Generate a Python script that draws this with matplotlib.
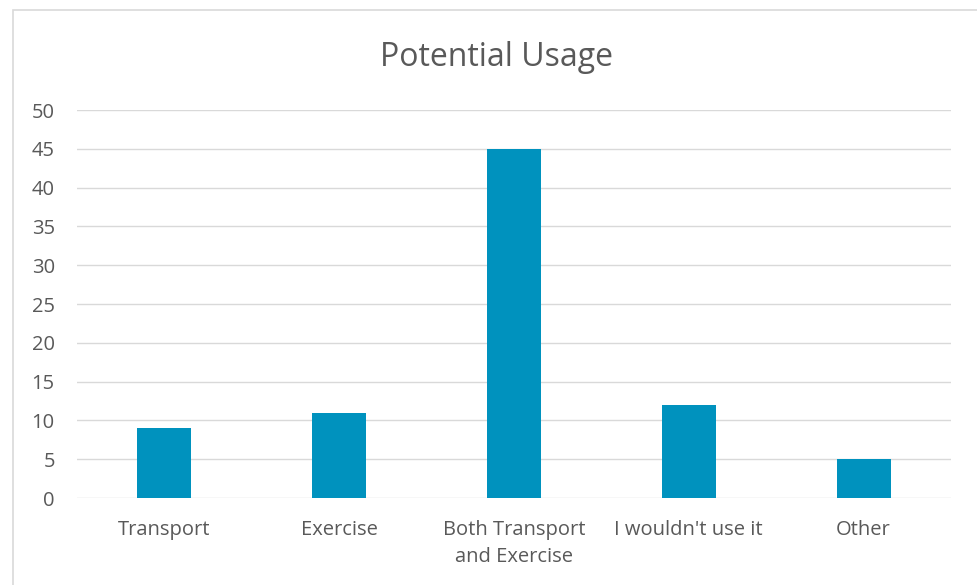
import matplotlib.pyplot as plt
from matplotlib.patches import Rectangle

categories = ['Transport', 'Exercise', 'Both Transport\nand Exercise', "I wouldn't use it", 'Other']
counts = [9, 11, 45, 12, 5]
yticks = list(range(0, 55, 5))

plt.rcParams['font.family'] = ['Open Sans', 'DejaVu Sans']
grey = '#595959'

fig = plt.figure(figsize=(9.78, 5.85), dpi=100)
ax = fig.add_axes([77/978, 1-498/585, 874/978, 388/585])

ax.bar(range(len(categories)), counts, width=0.31, color='#0092BE', zorder=3)
ax.set_xlim(-0.5, len(categories)-0.5)
ax.set_ylim(0, 50)
ax.set_yticks(yticks)
ax.set_xticks(range(len(categories)))
ax.set_xticklabels(categories, fontsize=14.5, color=grey, linespacing=1.45)
ax.tick_params(axis='y', labelsize=14.5, labelcolor=grey, length=0, pad=16)
ax.tick_params(axis='x', length=0, pad=16)
ax.grid(axis='y', color='#D9D9D9', linewidth=1, zorder=0)
for s in ax.spines.values():
    s.set_visible(False)

fig.text(497/978, 1-57/585, 'Potential Usage', ha='center', va='center', fontsize=23, color=grey)

# outer chart frame
fig.patches.append(Rectangle((13/978, -0.01), 1.0, 1-10/585+0.01, transform=fig.transFigure,
                             fill=False, edgecolor='#D9D9D9', linewidth=1.2))

fig.savefig('out.png', dpi=100)
